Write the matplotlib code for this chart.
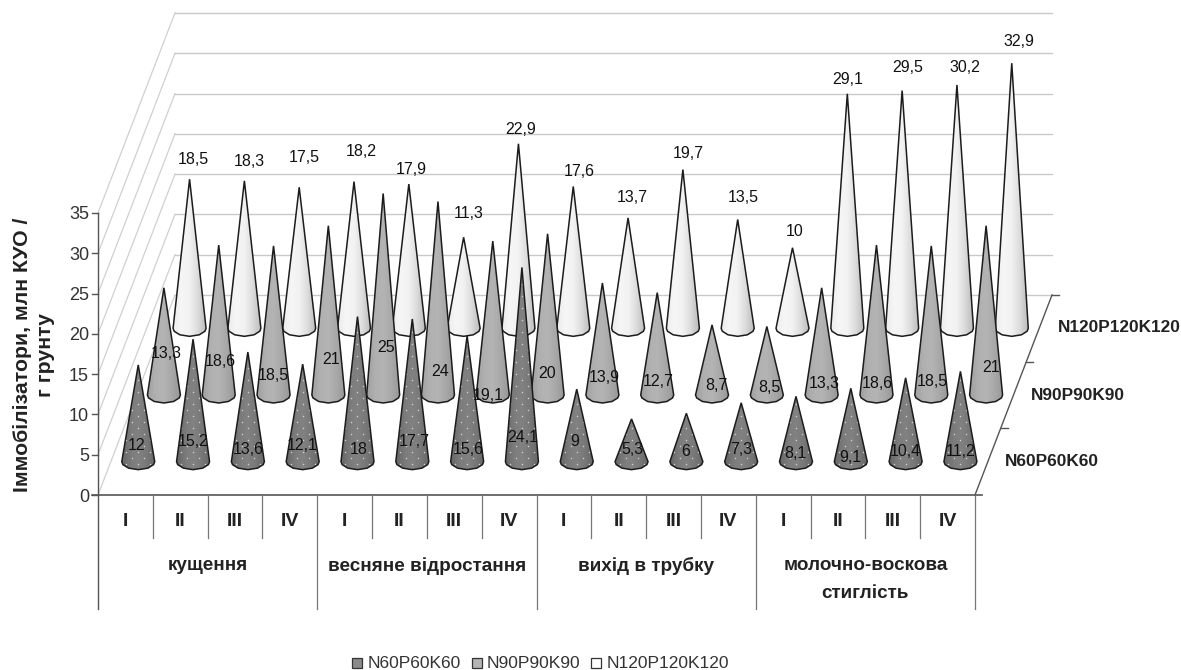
import numpy as np
import matplotlib
matplotlib.use("Agg")
import matplotlib.pyplot as plt
from matplotlib.colors import LinearSegmentedColormap
from matplotlib.patches import Polygon, Rectangle

plt.rcParams["font.family"] = ["Liberation Sans", "DejaVu Sans"]

series_names = ["N60P60K60", "N90P90K90", "N120P120K120"]
phases = ["кущення", "весняне відростання", "вихід в трубку", "молочно-воскова\nстиглість"]
terms = ["I", "II", "III", "IV"]
y_ticks = [0, 5, 10, 15, 20, 25, 30, 35]

n60 = [12, 15.2, 13.6, 12.1, 18, 17.7, 15.6, 24.1, 9, 5.3, 6, 7.3, 8.1, 9.1, 10.4, 11.2]
n90 = [13.3, 18.6, 18.5, 21, 25, 24, 19.1, 20, 13.9, 12.7, 8.7, 8.5, 13.3, 18.6, 18.5, 21]
n120 = [18.5, 18.3, 17.5, 18.2, 17.9, 11.3, 22.9, 17.6, 13.7, 19.7, 13.5, 10, 29.1, 29.5, 30.2, 32.9]
all_values = [n60, n90, n120]

# where the labels sit in the picture, they were moved by hand in the original
n60_label_xy = [(137, 446), (193, 442), (248, 450), (302, 446), (359, 449), (414, 442), (468, 450), (523, 437),
                (575, 442), (632, 449), (686, 452), (741, 449), (795, 454), (850, 457), (905, 452), (961, 451)]
n90_label_xy = [(166, 353), (220, 361), (273, 375), (331, 360), (386, 347), (440, 371), (488, 396), (547, 373),
                (604, 377), (658, 381), (716, 386), (769, 387), (824, 383), (877, 384), (932, 381), (991, 368)]
n120_label_xy = [(193, 159), (249, 162), (304, 157), (361, 151), (411, 169), (469, 214), (521, 130), (579, 172),
                 (632, 198), (688, 154), (743, 197), (795, 231), (848, 79), (908, 68), (965, 67), (1019, 42)]
label_xy = [n60_label_xy, n90_label_xy, n120_label_xy]

# pseudo 3d box in pixels
LEFT, RIGHT, FLOOR = 98.0, 975.0, 495.0
DX, DY = 77.0, -200.0
PX_PER_UNIT = 40.3 / 5
CONE_RX, CONE_RY = 16.5, 8.0
STEP = (RIGHT - LEFT) / 16


def project(cat, depth, value):
    # cat in category units, depth 0..1 front to back
    x = LEFT + cat * STEP + depth * DX
    y = FLOOR + depth * DY - value * PX_PER_UNIT
    return x, y


fig = plt.figure(figsize=(11.81, 6.70), dpi=100)
ax = fig.add_axes([0, 0, 1, 1])
ax.axis("off")

GRID = "#c9c9c9"
AXIS = "#555555"

# walls
for v in y_ticks:
    x0, y0 = project(0, 0, v)
    x1, y1 = project(0, 1, v)
    x2, y2 = project(16, 1, v)
    ax.plot([x0, x1], [y0, y1], color="#d0d0d0", lw=0.9, zorder=1)
    ax.plot([x1, x2], [y1, y2], color=GRID, lw=1.0, zorder=1)
    ax.plot([x0 - 6, x0], [y0, y0], color=AXIS, lw=1.0, zorder=2)
    ax.text(x0 - 9, y0 + 2, str(v), ha="right", va="center", fontsize=13, color="#333333")

# category axis
ax.plot([LEFT, LEFT], [project(0, 0, 35)[1], 609], color=AXIS, lw=1.0, zorder=2)
ax.plot([LEFT - 6, RIGHT + 7], [FLOOR, FLOOR], color=AXIS, lw=1.2, zorder=2)
for i in range(1, 17):
    bottom = 609 if i % 4 == 0 else 538
    ax.plot([LEFT + i * STEP] * 2, [FLOOR, bottom], color="#777777", lw=0.9, zorder=2)
    t = terms[(i - 1) % 4]
    ax.text(LEFT + (i - 0.5) * STEP, 522, t, ha="center", va="center", fontsize=14,
            fontweight="bold", color="#222222")
for i, phase in enumerate(phases):
    ax.text(LEFT + (4 * i + 2) * STEP, 566, phase.split("\n")[0], ha="center", va="center",
            fontsize=13.6, fontweight="bold", color="#222222")
    if "\n" in phase:
        ax.text(LEFT + (4 * i + 2) * STEP, 594, phase.split("\n")[1], ha="center", va="center",
                fontsize=13.6, fontweight="bold", color="#222222")

# depth axis on the right
x1, y1 = project(16, 1, 0)
ax.plot([RIGHT, x1], [FLOOR, y1], color=AXIS, lw=1.0, zorder=2)
for d in [1 / 3, 2 / 3, 1]:
    tx, ty = project(16, d, 0)
    ax.plot([tx, tx + 7], [ty, ty], color=AXIS, lw=1.0, zorder=2)
name_xy = [(1005, 461), (1031, 395), (1058, 327)]
for name, (nx, ny) in zip(series_names, name_xy):
    ax.text(nx, ny, name, ha="left", va="center", fontsize=12.4, fontweight="bold", color="#222222")

# cones
ramps = [
    ["#666666", "#7a7a7a", "#828282", "#787878", "#686868"],
    ["#a0a0a0", "#b0b0b0", "#b4b4b4", "#a8a8a8", "#989898"],
    ["#ececec", "#f6f6f6", "#f2f2f2", "#dcdcdc", "#bdbdbd"],
]
for s in range(3):
    depth = (2 * s + 1) / 6
    cmap = LinearSegmentedColormap.from_list(f"cone{s}", ramps[s])
    grad = np.linspace(0, 1, 64).reshape(1, -1)
    for c in range(16):
        cx, cy = project(c + 0.5, depth, 0)
        ax_, ay_ = project(c + 0.5, depth, all_values[s][c])
        theta = np.array([0, 0.12, 0.3, 0.5, 0.7, 0.88, 1]) * np.pi
        ex = cx + CONE_RX * np.cos(theta)
        ey = cy + CONE_RY * np.sin(theta)
        pts = np.vstack([[ax_, ay_], np.column_stack([ex, ey])])
        z = 3 + (2 - s) * 10 + c * 0.01
        im = ax.imshow(grad, cmap=cmap, extent=[cx - CONE_RX, cx + CONE_RX, cy + CONE_RY, ay_],
                       aspect="auto", zorder=z, interpolation="bilinear")
        patch = Polygon(pts, closed=True, facecolor="none", edgecolor="#1c1c1c", lw=1.1, zorder=z + 0.002)
        ax.add_patch(patch)
        im.set_clip_path(Polygon(pts, closed=True, transform=ax.transData))
        if s == 0:
            # dotted pattern fill on the front row
            gx, gy = [], []
            for r, yy in enumerate(np.arange(cy + CONE_RY, ay_, -6.0)):
                off = 0 if r % 2 == 0 else 6.0
                for xx in np.arange(cx - 18 + off, cx + 18, 12.0):
                    gx.append(xx)
                    gy.append(yy)
            dots = ax.scatter(gx, gy, s=1.2, color="#cfcfcf", linewidths=0, zorder=z + 0.001)
            dots.set_clip_path(Polygon(pts, closed=True, transform=ax.transData))

# data labels
for s in range(3):
    for c in range(16):
        txt = f"{all_values[s][c]:g}".replace(".", ",")
        lx, ly = label_xy[s][c]
        ax.text(lx, ly, txt, ha="center", va="center", fontsize=11.5, color="#111111", zorder=50)

# axis title
ax.text(34, 355, "Іммобілізатори, млн КУО /\nг грунту", rotation=90, ha="center", va="center",
        fontsize=15.3, fontweight="bold", color="#222222", linespacing=1.3, multialignment="center")

# legend
legend_x = [352, 472, 591]
legend_colors = ["#8a8a8a", "#b4b4b4", "#ffffff"]
legend_text_x = [368, 487, 607]
for lx, col, tx, name in zip(legend_x, legend_colors, legend_text_x, series_names):
    ax.add_patch(Rectangle((lx, 658), 10, 10, facecolor=col, edgecolor="#333333", lw=0.9, zorder=5))
    ax.text(tx, 663, name, ha="left", va="center", fontsize=12.5, color="#333333")

ax.set_xlim(0, 1181)
ax.set_ylim(670, 0)
fig.savefig("out.png", dpi=100)
